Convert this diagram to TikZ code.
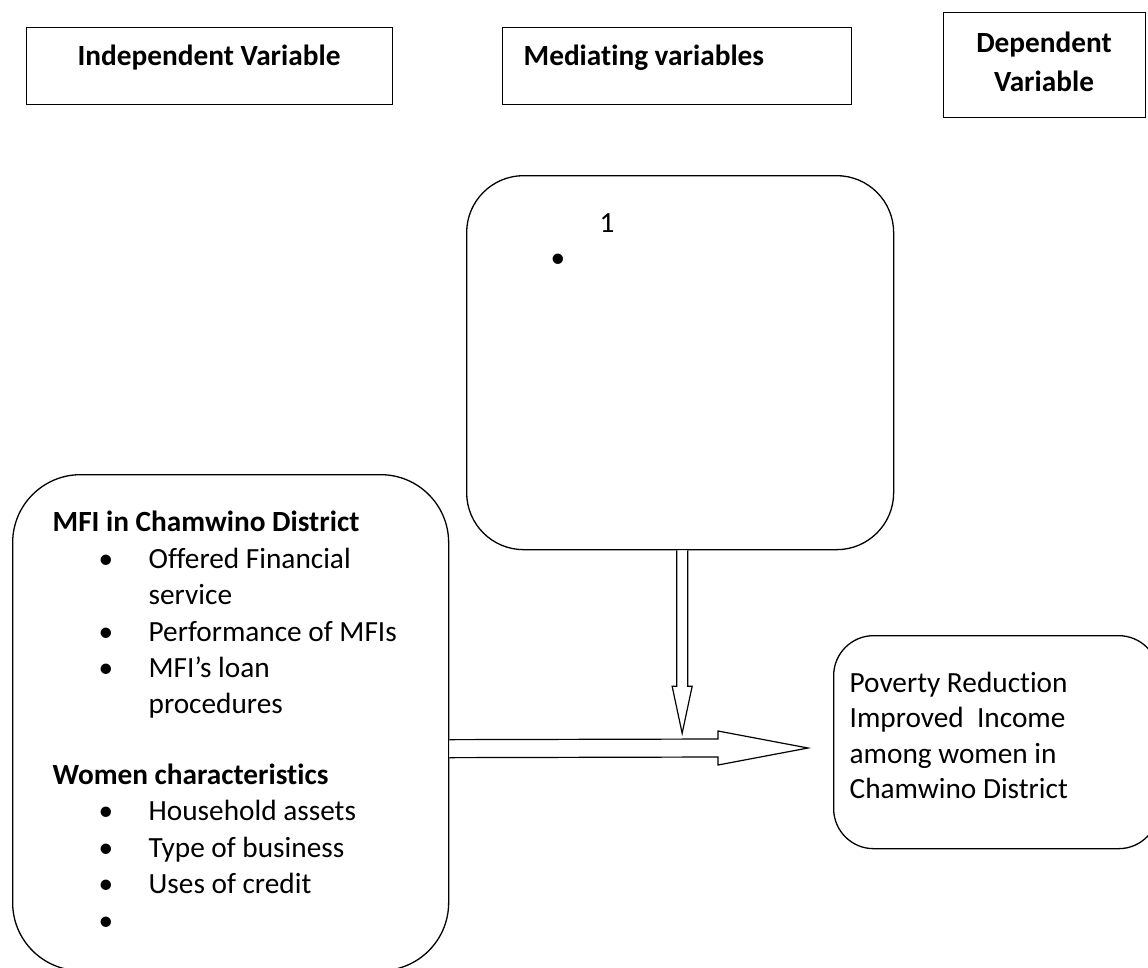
\documentclass[tikz,border=0pt]{standalone}
\usepackage{fontspec}
\setmainfont{Carlito}[Ligatures=NoCommon]
\usetikzlibrary{calc}
\begin{document}
\begin{tikzpicture}[x=1pt,y=-1pt, line width=1.3pt,
 box/.style={draw, rectangle, inner sep=0pt, anchor=north west},
 rbox/.style={box, rounded corners=#1},
 txt/.style={anchor=base west, inner sep=0pt, font=\fontsize{29.3}{36}\selectfont},
 btxt/.style={txt, font=\fontsize{29.3}{36}\selectfont\bfseries},
 bul/.style={anchor=base, inner sep=0pt, font=\fontsize{29.3}{36}\selectfont},
 blockarrow/.style={draw, fill=white, line width=1.2pt, line join=miter}]
\useasboundingbox (0,0) rectangle (1148,967);
\begin{scope}
\clip (0,0) rectangle (1148,967);
% header boxes
\node[box, minimum width=366pt, minimum height=77pt] (indbox) at (26,27) {};
\node[box, minimum width=349pt, minimum height=77pt] (medbox) at (502,27) {};
\node[box, minimum width=202pt, minimum height=105pt] (depbox) at (943,12) {};
\node[btxt, anchor=base] (indt) at (209,65) {Independent Variable};
\node[btxt] (medt) at (523,65) {Mediating variables};
\node[btxt, anchor=base] (dept1) at (1044,52) {Dependent};
\node[btxt, anchor=base] (dept2) at (1044,91) {Variable};

% mediating rounded box
\node[rbox=57pt, minimum width=427pt, minimum height=374pt] (med) at (466,175) {};
\node[txt, anchor=base] (one) at (607,232) {1};
\node[bul] (medbul) at (558,267) {•};

% independent rounded box
\node[rbox=68pt, minimum width=436pt, minimum height=496pt] (iv) at (12,474) {};
\node[btxt] (h1) at (52,531) {MFI in Chamwino District};
\node[bul] (b1) at (106,568) {•};
\node[txt] (t1) at (148,568) {Offered Financial};
\node[txt] (t1b) at (148,604) {service};
\node[bul] (b2) at (106,641) {•};
\node[txt] (t2) at (148,641) {Performance of MFIs};
\node[bul] (b3) at (106,677) {•};
\node[txt] (t3) at (148,677) {MFI’s loan};
\node[txt] (t3b) at (148,713) {procedures};
\node[btxt] (h2) at (52,784) {Women characteristics};
\node[bul] (b4) at (106,820) {•};
\node[txt] (t4) at (148,820) {Household assets};
\node[bul] (b5) at (106,857) {•};
\node[txt] (t5) at (148,857) {Type of business};
\node[bul] (b6) at (106,893) {•};
\node[txt] (t6) at (148,893) {Uses of credit};
\node[bul] (b7) at (106,930) {•};

% dependent rounded box
\node[rbox=40pt, minimum width=325pt, minimum height=213pt] (dv) at (833,635) {};
\node[txt] (d1) at (849,692) {Poverty Reduction};
\node[txt] (d2) at (849,727) {Improved\ \ Income};
\node[txt] (d3) at (849,763) {among women in};
\node[txt] (d4) at (849,798) {Chamwino District};

% vertical block arrow
\coordinate (vtop) at ($(med.south)+(2,0)$);
\coordinate (vtip) at ($(vtop)+(0,183)$);
\draw[blockarrow] ($(vtop)+(-5.5,0)$) -- ($(vtip)+(-5.5,-47)$) -- ($(vtip)+(-10,-47)$)
  -- (vtip) -- ($(vtip)+(10,-47)$) -- ($(vtip)+(5.5,-47)$) -- ($(vtop)+(5.5,0)$);

% horizontal block arrow
\coordinate (hstart) at ($(iv.east)+(0,26)$);
\coordinate (htip) at (808,748);
\draw[blockarrow] ($(hstart)+(0,-9)$) -- ($(htip)+(-90,-9)$) -- ($(htip)+(-90,-17)$)
  -- (htip) -- ($(htip)+(-90,17)$) -- ($(htip)+(-90,9)$) -- ($(hstart)+(0,9)$);
\end{scope}
\end{tikzpicture}
\end{document}
